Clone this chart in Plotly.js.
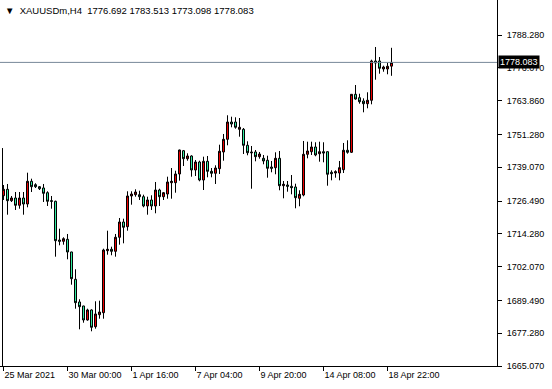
<!DOCTYPE html>
<html>
<head>
<meta charset="utf-8">
<script src="https://cdn.plot.ly/plotly-3.0.1.min.js"></script>
<style>html,body{margin:0;padding:0;background:#fff;}#chart{width:552px;height:389px;}</style>
</head>
<body>
<div id="chart"></div>
<script>
// H4 bars of XAUUSDm, bar index 0..97
const opens = [1728.47,1730.85,1726.61,1727.61,1724.90,1727.61,1725.38,1733.83,1732.56,1731.82,
1731.34,1729.59,1726.61,1726.39,1711.98,1711.50,1712.24,1707.52,1697.35,1688.91,
1687.42,1682.21,1685.93,1679.71,1684.18,1684.92,1708.00,1708.52,1707.77,1712.99,
1718.68,1716.93,1728.36,1728.84,1728.84,1728.10,1724.64,1726.87,1724.64,1730.59,
1728.10,1729.10,1733.31,1733.31,1736.55,1745.22,1742.24,1743.25,1738.04,1741.01,
1734.31,1741.27,1737.55,1736.81,1738.52,1744.74,1749.46,1755.90,1755.90,1753.18,
1753.18,1747.23,1744.74,1744.74,1742.99,1742.39,1741.65,1739.15,1738.89,1742.39,
1732.19,1732.45,1731.97,1731.71,1727.50,1728.73,1743.88,1744.85,1746.60,1744.10,
1744.85,1744.85,1737.18,1736.92,1736.92,1738.15,1745.37,1744.62,1766.21,1764.95,
1763.72,1762.71,1763.98,1778.61,1778.61,1775.63,1775.63,1776.692];
const highs = [1732.45,1732.83,1728.36,1729.85,1729.85,1729.85,1737.03,1734.80,1733.09,1732.08,
1732.83,1730.11,1728.36,1726.61,1716.19,1712.99,1714.22,1707.60,1701.08,1689.91,
1687.50,1686.41,1686.19,1689.17,1689.39,1708.74,1715.44,1709.49,1714.22,1720.17,
1719.91,1730.11,1730.11,1730.85,1730.33,1728.84,1728.10,1728.62,1733.57,1731.07,
1729.85,1735.54,1738.78,1737.77,1745.60,1745.48,1744.25,1743.51,1741.76,1741.50,
1742.99,1743.25,1738.78,1739.78,1747.45,1751.44,1758.40,1757.87,1757.65,1757.39,
1753.67,1748.72,1746.97,1745.48,1744.74,1743.62,1743.36,1741.39,1744.62,1745.11,
1733.94,1733.94,1736.17,1732.94,1730.48,1748.83,1748.57,1748.57,1748.35,1748.57,
1748.35,1744.95,1737.92,1737.92,1741.39,1748.09,1749.09,1766.30,1769.67,1766.43,
1764.72,1766.96,1779.09,1783.82,1780.09,1776.86,1777.97,1783.513];
const lows = [1726.87,1721.40,1726.13,1723.15,1723.63,1721.40,1724.15,1729.85,1731.34,1730.59,
1726.13,1724.64,1723.63,1705.77,1710.01,1710.23,1704.80,1695.34,1686.41,1678.74,
1681.20,1681.95,1678.00,1678.97,1682.69,1682.69,1706.51,1706.29,1705.77,1710.23,
1710.75,1715.44,1725.12,1728.10,1726.87,1724.15,1721.40,1723.15,1721.92,1724.64,
1726.87,1727.35,1727.35,1729.59,1734.05,1739.52,1741.50,1735.54,1735.80,1733.83,
1730.59,1735.32,1735.32,1732.83,1736.55,1741.50,1747.23,1753.93,1753.41,1750.43,
1743.99,1743.51,1731.07,1741.27,1742.24,1740.16,1735.17,1737.18,1736.44,1730.48,
1727.50,1729.96,1728.99,1723.78,1724.53,1728.25,1742.39,1743.62,1743.14,1741.13,
1740.90,1732.19,1734.20,1735.17,1734.20,1736.92,1744.10,1744.36,1764.20,1762.71,
1759.51,1761.00,1762.49,1771.65,1773.88,1774.62,1773.66,1773.098];
const closes = [1730.85,1726.61,1727.61,1724.90,1727.61,1725.38,1733.83,1731.82,1731.82,1731.07,
1729.36,1726.39,1726.39,1711.72,1711.50,1712.47,1707.52,1697.58,1688.65,1687.16,
1682.21,1685.93,1679.49,1684.44,1685.18,1708.26,1708.52,1707.77,1712.99,1718.68,
1716.71,1728.36,1729.10,1729.85,1728.10,1724.64,1726.87,1724.64,1730.59,1728.10,
1729.59,1733.57,1733.83,1736.55,1745.48,1742.24,1743.25,1738.04,1741.01,1734.31,
1741.27,1737.55,1736.81,1738.78,1745.00,1749.46,1755.90,1755.16,1753.93,1753.93,
1747.23,1744.47,1744.47,1742.99,1743.99,1741.39,1738.67,1738.67,1742.39,1732.19,
1732.71,1731.97,1731.45,1727.73,1728.99,1743.88,1745.11,1746.60,1743.62,1744.85,
1744.36,1736.44,1736.66,1737.40,1738.89,1745.37,1744.62,1766.21,1764.46,1763.46,
1762.71,1763.98,1778.61,1777.86,1775.89,1776.37,1776.63,1778.083];

const xTickIdx = [0,16,32,48,64,80,96];
const xTickText = ["25 Mar 2021","30 Mar 00:00","1 Apr 16:00","7 Apr 04:00","9 Apr 20:00","14 Apr 08:00","18 Apr 22:00"];
const yTickVals = [1665.07,1677.28,1689.49,1702.07,1714.28,1726.49,1739.07,1751.28,1763.86,1776.07,1788.28];
const yTickText = ["1665.070","1677.280","1689.490","1702.070","1714.280","1726.490","1739.070","1751.280","1763.860","1776.070","1788.280"];
const symbol = "XAUUSDm,H4";
const lastBar = {o:1776.692,h:1783.513,l:1773.098,c:1778.083};
const edgeLineTop = 1746.2;   // top of the dark vertical line at the left edge

const idx = opens.map((_,i)=>i);
const F = "'Liberation Sans', Arial, sans-serif";

const trace = {
  type:'candlestick', x:idx, open:opens, high:highs, low:lows, close:closes,
  increasing:{fillcolor:'#ee0000', line:{color:'#000000', width:1}},
  decreasing:{fillcolor:'#30eca0', line:{color:'#000000', width:1}},
  whiskerwidth:0, hoverinfo:'skip'
};

const layout = {
  width:552, height:389,
  margin:{l:0, r:55, t:0, b:23},
  paper_bgcolor:'#ffffff', plot_bgcolor:'#ffffff',
  showlegend:false,
  boxgap:0.5, boxgroupgap:0,
  xaxis:{range:[-0.875,123.375], rangeslider:{visible:false}, showgrid:false, zeroline:false,
    tickmode:'array', tickvals:xTickIdx, ticktext:xTickText, ticks:'outside', ticklen:4, tickcolor:'#000',
    ticklabelposition:'outside right', tickfont:{family:F, size:9, color:'#000'},
    showline:true, linecolor:'#000', linewidth:1, mirror:false, fixedrange:true},
  yaxis:{range:[1665.08,1801.31], side:'right', showgrid:false, zeroline:false,
    tickmode:'array', tickvals:yTickVals, ticktext:yTickText, ticks:'outside', ticklen:4, tickcolor:'#000',
    ticklabelstandoff:3,
    tickfont:{family:F, size:9, color:'#000'}, showline:true, linecolor:'#000', linewidth:1, fixedrange:true},
  shapes:[
    {type:'line', xref:'paper', x0:0, x1:1, yref:'y', y0:lastBar.c, y1:lastBar.c, line:{color:'#778899', width:1}},
    {type:'line', xref:'x', x0:-0.25, x1:-0.25, yref:'y', y0:edgeLineTop, y1:1665.08, line:{color:'#000000', width:1}}
  ],
  annotations:[
    {xref:'paper', yref:'y', x:1, y:lastBar.c, xanchor:'left', yanchor:'middle', text:lastBar.c.toFixed(3),
     showarrow:false, bgcolor:'#000000', font:{family:F, size:9, color:'#ffffff'}, borderpad:1, xshift:1},
    {xref:'paper', yref:'paper', x:0, y:1, xanchor:'left', yanchor:'top', xshift:3, yshift:-3,
     text:'▼  '+symbol+'  '+lastBar.o.toFixed(3)+' '+lastBar.h.toFixed(3)+' '+lastBar.l.toFixed(3)+' '+lastBar.c.toFixed(3),
     showarrow:false, font:{family:F, size:9.5, color:'#000'}}
  ]
};

Plotly.newPlot('chart',[trace],layout,{staticPlot:true, displayModeBar:false});
</script>
</body>
</html>
